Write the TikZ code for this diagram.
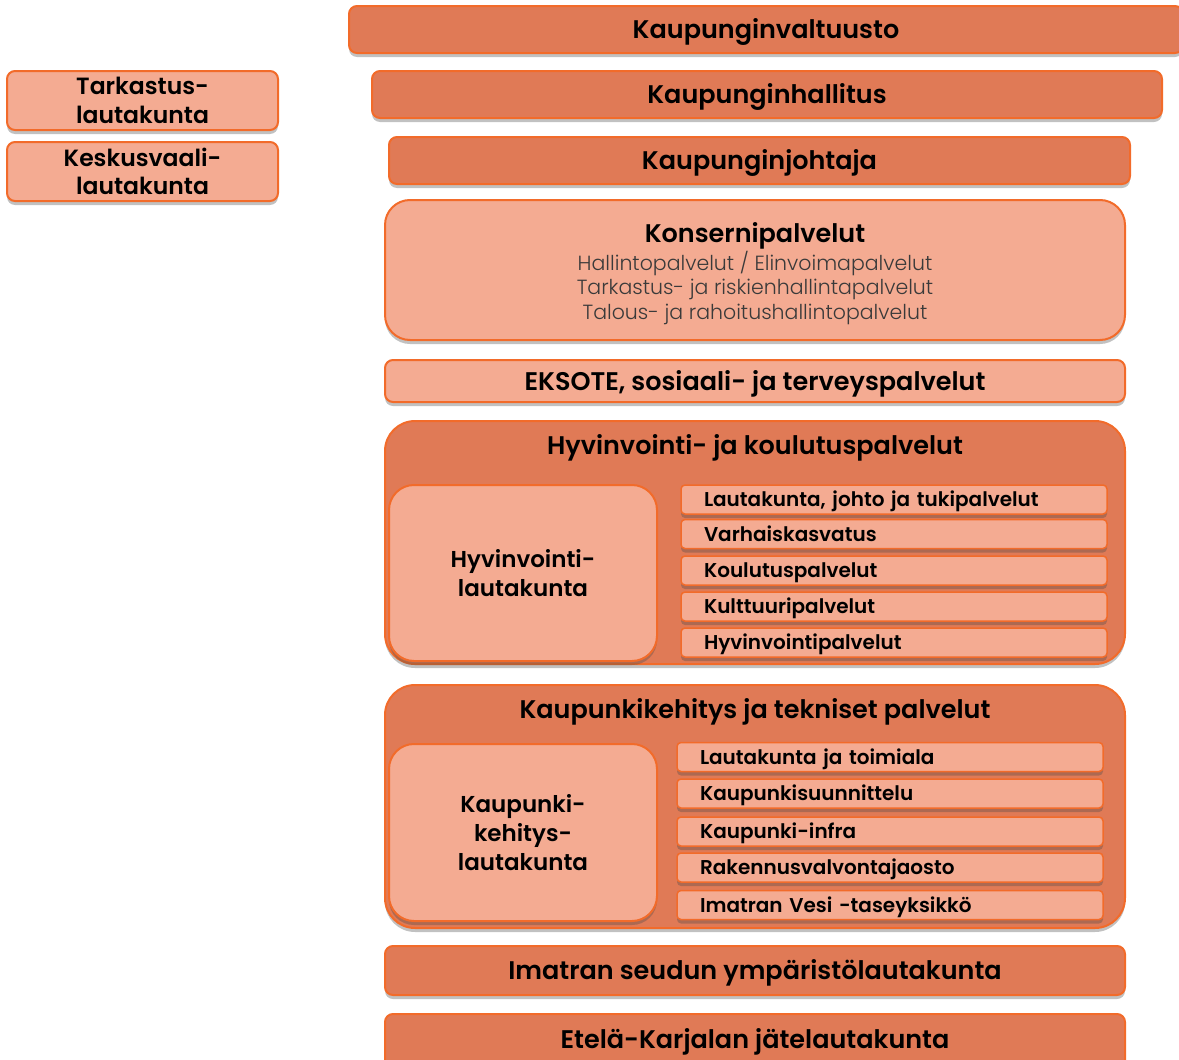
\documentclass[tikz,border=0pt]{standalone}
\usepackage{fontspec}
\setmainfont{Poppins}[BoldFont={Poppins SemiBold}]
\newfontfamily\lightfont{Poppins Light}
\usetikzlibrary{shadows}
\definecolor{darkfill}{HTML}{E07A56}
\definecolor{lightfill}{HTML}{F4AB92}
\definecolor{edgecol}{HTML}{F26B2A}
\definecolor{subtxt}{HTML}{3A3A3A}
\tikzset{
  shd/.style={drop shadow={shadow xshift=0pt, shadow yshift=-4pt, opacity=0.35, fill=black!70}},
  box/.style={draw=edgecol, line width=2pt, rounded corners=8pt, shd, inner sep=0pt,
    font=\bfseries\fontsize{25.5}{28}\selectfont, text=black, align=center},
  oneline/.style={text height=19pt, text depth=1pt},
  darkbox/.style={box, fill=darkfill},
  lightbox/.style={box, fill=lightfill},
  groupbox/.style={darkbox, rounded corners=30pt, minimum width=740pt, minimum height=243pt},
  innerbox/.style={lightbox, rounded corners=25pt, minimum width=268pt,
    font=\bfseries\fontsize{23}{29}\selectfont},
  rowbox/.style={draw=edgecol, line width=1.5pt, rounded corners=4pt, fill=lightfill, shd,
    minimum width=426pt, minimum height=29pt, inner xsep=23pt, inner ysep=0pt,
    text width=380pt, align=left, font=\bfseries\fontsize{20}{22}\selectfont,
    text height=15pt, text depth=1pt},
  side/.style={lightbox, minimum width=271pt, minimum height=59pt,
    font=\bfseries\fontsize{23.5}{28.5}\selectfont},
  titletxt/.style={font=\bfseries\fontsize{25.5}{28}\selectfont, inner sep=0pt, oneline},
}
\begin{document}
\begin{tikzpicture}[x=1pt,y=-1pt]
\useasboundingbox (0,0) rectangle (1179,1060);
% top bars
\node[darkbox, oneline, minimum width=834pt, minimum height=47pt] (valt) at (766,29.5) {Kaupunginvaltuusto};
\node[darkbox, oneline, minimum width=790pt, minimum height=47pt] (hall) at (767,94.5) {Kaupunginhallitus};
\node[darkbox, oneline, minimum width=741pt, minimum height=47pt] (joht) at (759.5,160.5) {Kaupunginjohtaja};
% side boxes
\node[side] (tark) at (142.5,100.5) {Tarkastus-\\lautakunta};
\node[side] (kesk) at (142.5,171.5) {Keskusvaali-\\lautakunta};
% Konsernipalvelut
\node[lightbox, rounded corners=25pt, minimum width=740pt, minimum height=140pt] (kons) at (755,270) {};
\node[titletxt] (konsT) at (755,233) {Konsernipalvelut};
\node[inner sep=0pt, align=center, text=subtxt, font=\lightfont\fontsize{20.5}{24.5}\selectfont] (konsS) at (755,288)
  {Hallintopalvelut / Elinvoimapalvelut\\Tarkastus- ja riskienhallintapalvelut\\Talous- ja rahoitushallintopalvelut};
% EKSOTE
\node[lightbox, oneline, minimum width=740pt, minimum height=42pt] (eks) at (755,381) {EKSOTE, sosiaali- ja terveyspalvelut};
% Hyvinvointi group
\node[groupbox] (hyv) at (755,542.5) {};
\node[titletxt] (hyvT) at (755,445) {Hyvinvointi- ja koulutuspalvelut};
\node[innerbox, minimum height=176pt] (hyvL) at (523,573) {Hyvinvointi-\\lautakunta};
\node[rowbox] (h1) at (894,499.5) {Lautakunta, johto ja tukipalvelut};
\node[rowbox] (h2) at (894,534) {Varhaiskasvatus};
\node[rowbox] (h3) at (894,570.5) {Koulutuspalvelut};
\node[rowbox] (h4) at (894,606.5) {Kulttuuripalvelut};
\node[rowbox] (h5) at (894,642.5) {Hyvinvointipalvelut};
% Kaupunkikehitys group
\node[groupbox] (kau) at (755,806.5) {};
\node[titletxt] (kauT) at (755,709) {Kaupunkikehitys ja tekniset palvelut};
\node[innerbox, minimum height=177pt] (kauL) at (523,832.5) {Kaupunki-\\kehitys-\\lautakunta};
\node[rowbox] (k1) at (890,757) {Lautakunta ja toimiala};
\node[rowbox] (k2) at (890,793.5) {Kaupunkisuunnittelu};
\node[rowbox] (k3) at (890,831.5) {Kaupunki-infra};
\node[rowbox] (k4) at (890,867.5) {Rakennusvalvontajaosto};
\node[rowbox] (k5) at (890,905) {Imatran Vesi -taseyksikkö};
% bottom bars
\node[darkbox, oneline, minimum width=740pt, minimum height=49pt] (ims) at (755,970.5) {Imatran seudun ympäristölautakunta};
\node[darkbox, minimum width=740pt, minimum height=56pt] (ete) at (755,1042) {};
\node[titletxt] (eteT) at (755,1039) {Etelä-Karjalan jätelautakunta};
\end{tikzpicture}
\end{document}
